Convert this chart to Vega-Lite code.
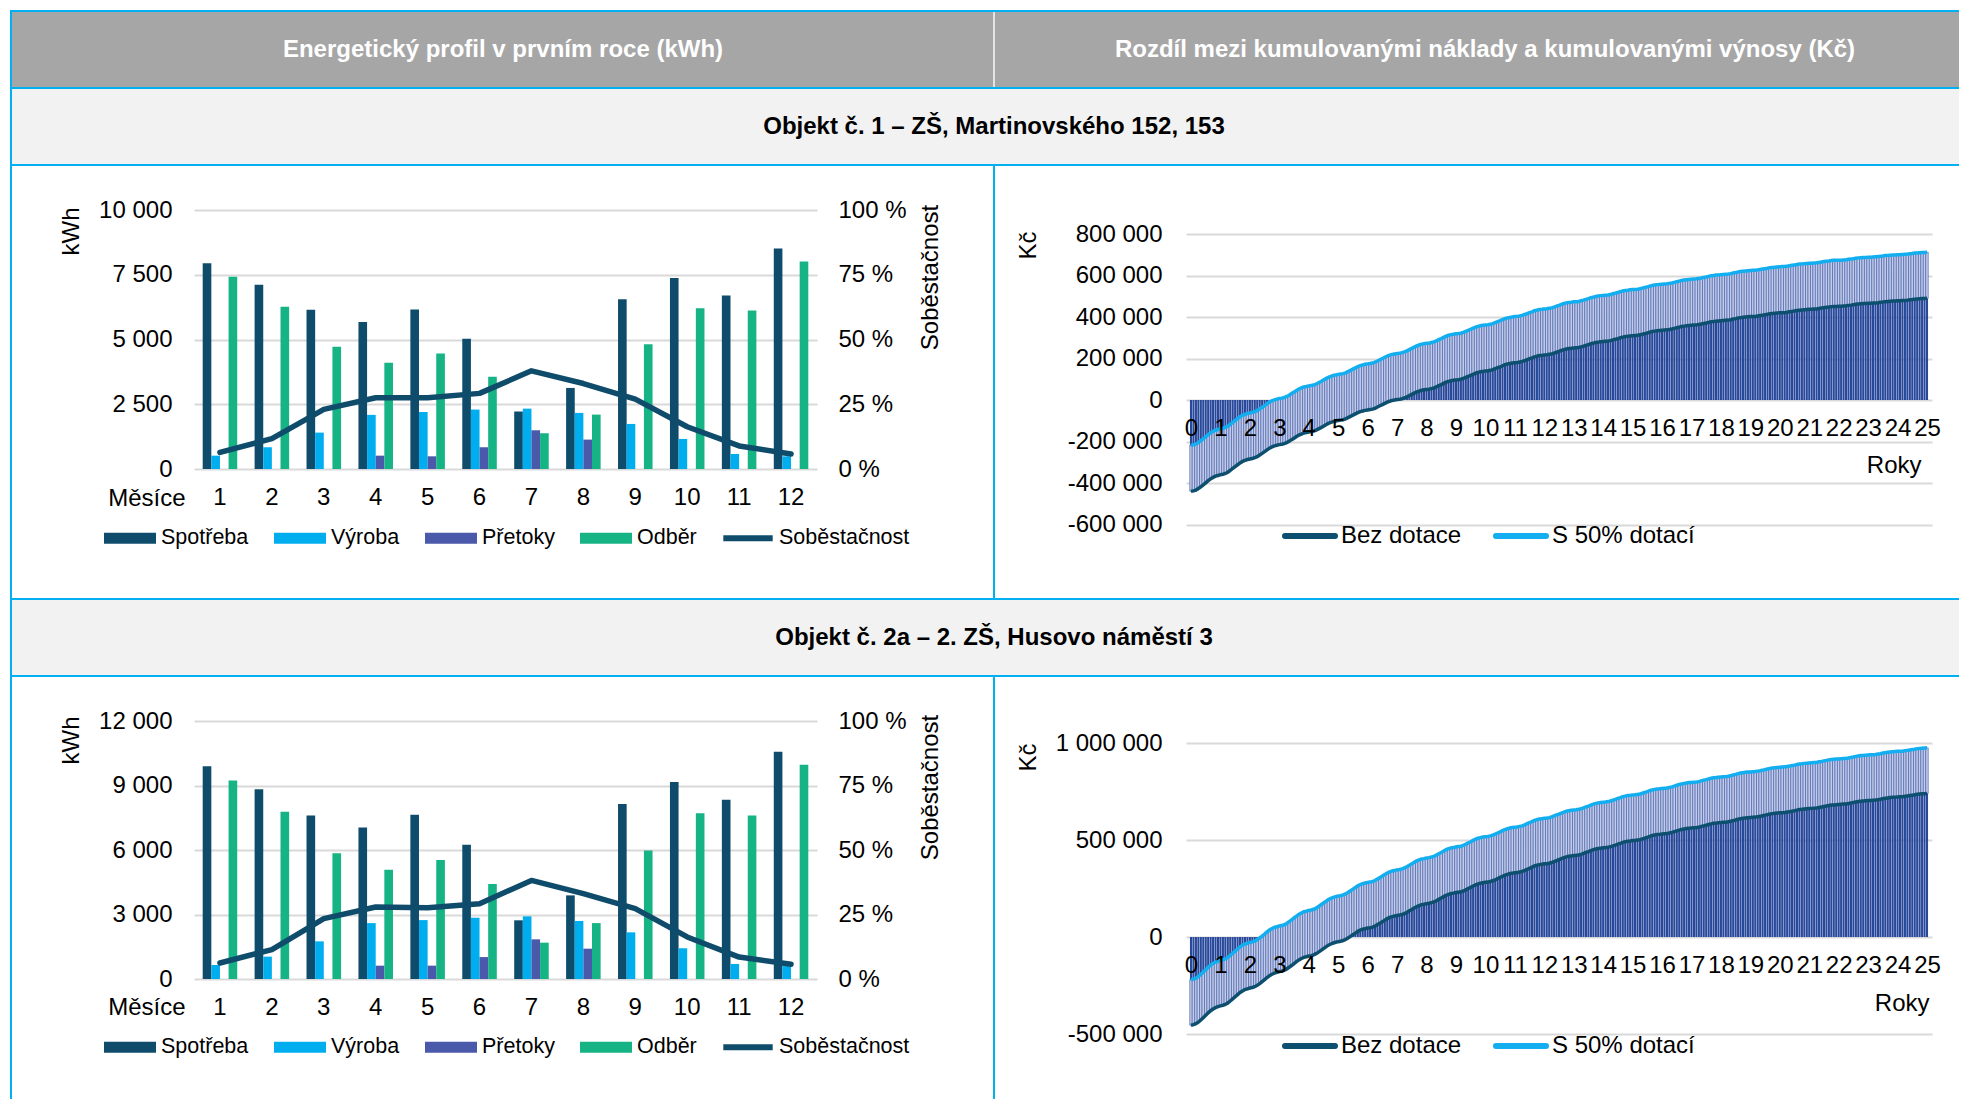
{
"$schema": "https://vega.github.io/schema/vega-lite/v6.json",
"padding": {"left": 10, "top": 10, "right": 0, "bottom": 0},
"background": "white",
"data": {"values": [{}]},
"datasets": {
"bars1": [
{"mesic":1,"serie":"Spotřeba","kwh":7940},{"mesic":1,"serie":"Výroba","kwh":515},{"mesic":1,"serie":"Přetoky","kwh":0},{"mesic":1,"serie":"Odběr","kwh":7425},
{"mesic":2,"serie":"Spotřeba","kwh":7110},{"mesic":2,"serie":"Výroba","kwh":840},{"mesic":2,"serie":"Přetoky","kwh":0},{"mesic":2,"serie":"Odběr","kwh":6260},
{"mesic":3,"serie":"Spotřeba","kwh":6150},{"mesic":3,"serie":"Výroba","kwh":1405},{"mesic":3,"serie":"Přetoky","kwh":0},{"mesic":3,"serie":"Odběr","kwh":4720},
{"mesic":4,"serie":"Spotřeba","kwh":5680},{"mesic":4,"serie":"Výroba","kwh":2090},{"mesic":4,"serie":"Přetoky","kwh":515},{"mesic":4,"serie":"Odběr","kwh":4105},
{"mesic":5,"serie":"Spotřeba","kwh":6160},{"mesic":5,"serie":"Výroba","kwh":2200},{"mesic":5,"serie":"Přetoky","kwh":490},{"mesic":5,"serie":"Odběr","kwh":4455},
{"mesic":6,"serie":"Spotřeba","kwh":5030},{"mesic":6,"serie":"Výroba","kwh":2295},{"mesic":6,"serie":"Přetoky","kwh":840},{"mesic":6,"serie":"Odběr","kwh":3565},
{"mesic":7,"serie":"Spotřeba","kwh":2220},{"mesic":7,"serie":"Výroba","kwh":2330},{"mesic":7,"serie":"Přetoky","kwh":1495},{"mesic":7,"serie":"Odběr","kwh":1380},
{"mesic":8,"serie":"Spotřeba","kwh":3130},{"mesic":8,"serie":"Výroba","kwh":2165},{"mesic":8,"serie":"Přetoky","kwh":1135},{"mesic":8,"serie":"Odběr","kwh":2100},
{"mesic":9,"serie":"Spotřeba","kwh":6550},{"mesic":9,"serie":"Výroba","kwh":1740},{"mesic":9,"serie":"Přetoky","kwh":0},{"mesic":9,"serie":"Odběr","kwh":4815},
{"mesic":10,"serie":"Spotřeba","kwh":7370},{"mesic":10,"serie":"Výroba","kwh":1160},{"mesic":10,"serie":"Přetoky","kwh":0},{"mesic":10,"serie":"Odběr","kwh":6210},
{"mesic":11,"serie":"Spotřeba","kwh":6700},{"mesic":11,"serie":"Výroba","kwh":580},{"mesic":11,"serie":"Přetoky","kwh":0},{"mesic":11,"serie":"Odběr","kwh":6120},
{"mesic":12,"serie":"Spotřeba","kwh":8510},{"mesic":12,"serie":"Výroba","kwh":490},{"mesic":12,"serie":"Přetoky","kwh":0},{"mesic":12,"serie":"Odběr","kwh":8010}
],
"sob1": [
{"mesic":1,"sob":6.4},{"mesic":2,"sob":11.7},{"mesic":3,"sob":23.0},{"mesic":4,"sob":27.5},{"mesic":5,"sob":27.5},{"mesic":6,"sob":29.2},
{"mesic":7,"sob":37.9},{"mesic":8,"sob":33.0},{"mesic":9,"sob":27.0},{"mesic":10,"sob":16.3},{"mesic":11,"sob":8.9},{"mesic":12,"sob":5.8}
],
"bars2": [
{"mesic":1,"serie":"Spotřeba","kwh":9890},{"mesic":1,"serie":"Výroba","kwh":650},{"mesic":1,"serie":"Přetoky","kwh":0},{"mesic":1,"serie":"Odběr","kwh":9235},
{"mesic":2,"serie":"Spotřeba","kwh":8820},{"mesic":2,"serie":"Výroba","kwh":1040},{"mesic":2,"serie":"Přetoky","kwh":0},{"mesic":2,"serie":"Odběr","kwh":7775},
{"mesic":3,"serie":"Spotřeba","kwh":7610},{"mesic":3,"serie":"Výroba","kwh":1750},{"mesic":3,"serie":"Přetoky","kwh":0},{"mesic":3,"serie":"Odběr","kwh":5845},
{"mesic":4,"serie":"Spotřeba","kwh":7050},{"mesic":4,"serie":"Výroba","kwh":2600},{"mesic":4,"serie":"Přetoky","kwh":620},{"mesic":4,"serie":"Odběr","kwh":5080},
{"mesic":5,"serie":"Spotřeba","kwh":7640},{"mesic":5,"serie":"Výroba","kwh":2740},{"mesic":5,"serie":"Přetoky","kwh":620},{"mesic":5,"serie":"Odběr","kwh":5530},
{"mesic":6,"serie":"Spotřeba","kwh":6250},{"mesic":6,"serie":"Výroba","kwh":2850},{"mesic":6,"serie":"Přetoky","kwh":1020},{"mesic":6,"serie":"Odběr","kwh":4420},
{"mesic":7,"serie":"Spotřeba","kwh":2730},{"mesic":7,"serie":"Výroba","kwh":2915},{"mesic":7,"serie":"Přetoky","kwh":1845},{"mesic":7,"serie":"Odběr","kwh":1690},
{"mesic":8,"serie":"Spotřeba","kwh":3890},{"mesic":8,"serie":"Výroba","kwh":2700},{"mesic":8,"serie":"Přetoky","kwh":1410},{"mesic":8,"serie":"Odběr","kwh":2600},
{"mesic":9,"serie":"Spotřeba","kwh":8140},{"mesic":9,"serie":"Výroba","kwh":2170},{"mesic":9,"serie":"Přetoky","kwh":0},{"mesic":9,"serie":"Odběr","kwh":5980},
{"mesic":10,"serie":"Spotřeba","kwh":9160},{"mesic":10,"serie":"Výroba","kwh":1430},{"mesic":10,"serie":"Přetoky","kwh":0},{"mesic":10,"serie":"Odběr","kwh":7710},
{"mesic":11,"serie":"Spotřeba","kwh":8340},{"mesic":11,"serie":"Výroba","kwh":700},{"mesic":11,"serie":"Přetoky","kwh":0},{"mesic":11,"serie":"Odběr","kwh":7610},
{"mesic":12,"serie":"Spotřeba","kwh":10570},{"mesic":12,"serie":"Výroba","kwh":600},{"mesic":12,"serie":"Přetoky","kwh":0},{"mesic":12,"serie":"Odběr","kwh":9960}
],
"sob2": [
{"mesic":1,"sob":6.2},{"mesic":2,"sob":11.4},{"mesic":3,"sob":23.4},{"mesic":4,"sob":27.9},{"mesic":5,"sob":27.6},{"mesic":6,"sob":29.2},
{"mesic":7,"sob":38.2},{"mesic":8,"sob":33.1},{"mesic":9,"sob":27.3},{"mesic":10,"sob":16.3},{"mesic":11,"sob":8.5},{"mesic":12,"sob":5.7}
],
"cum": [
{"m":0,"b1":-440000,"s1":-218000,"b2":-455000,"s2":-220000},
{"m":1,"b1":-438000,"s1":-216000,"b2":-452000,"s2":-217000},
{"m":2,"b1":-434000,"s1":-212000,"b2":-447000,"s2":-212000},
{"m":3,"b1":-427000,"s1":-205000,"b2":-439000,"s2":-204000},
{"m":4,"b1":-418000,"s1":-196000,"b2":-428000,"s2":-193000},
{"m":5,"b1":-409000,"s1":-187000,"b2":-416000,"s2":-181000},
{"m":6,"b1":-399000,"s1":-177000,"b2":-404000,"s2":-169000},
{"m":7,"b1":-389000,"s1":-167000,"b2":-391000,"s2":-156000},
{"m":8,"b1":-380000,"s1":-158000,"b2":-380000,"s2":-145000},
{"m":9,"b1":-373000,"s1":-151000,"b2":-371000,"s2":-136000},
{"m":10,"b1":-367000,"s1":-145000,"b2":-364000,"s2":-129000},
{"m":11,"b1":-364000,"s1":-142000,"b2":-359000,"s2":-124000},
{"m":12,"b1":-360000,"s1":-138000,"b2":-355000,"s2":-120000},
{"m":13,"b1":-358000,"s1":-136000,"b2":-352000,"s2":-117000},
{"m":14,"b1":-354000,"s1":-132000,"b2":-348000,"s2":-113000},
{"m":15,"b1":-348000,"s1":-126000,"b2":-340000,"s2":-105000},
{"m":16,"b1":-339000,"s1":-117000,"b2":-330000,"s2":-95000},
{"m":17,"b1":-330000,"s1":-108000,"b2":-319000,"s2":-84000},
{"m":18,"b1":-321000,"s1":-99000,"b2":-308000,"s2":-73000},
{"m":19,"b1":-312000,"s1":-90000,"b2":-297000,"s2":-62000},
{"m":20,"b1":-303000,"s1":-81000,"b2":-286000,"s2":-51000},
{"m":21,"b1":-296000,"s1":-74000,"b2":-278000,"s2":-43000},
{"m":22,"b1":-291000,"s1":-69000,"b2":-271000,"s2":-36000},
{"m":23,"b1":-287000,"s1":-65000,"b2":-267000,"s2":-32000},
{"m":24,"b1":-284000,"s1":-62000,"b2":-263000,"s2":-28000},
{"m":25,"b1":-282000,"s1":-60000,"b2":-260000,"s2":-25000},
{"m":26,"b1":-278000,"s1":-56000,"b2":-256000,"s2":-21000},
{"m":27,"b1":-273000,"s1":-51000,"b2":-249000,"s2":-14000},
{"m":28,"b1":-265000,"s1":-43000,"b2":-240000,"s2":-5000},
{"m":29,"b1":-257000,"s1":-35000,"b2":-230000,"s2":5000},
{"m":30,"b1":-249000,"s1":-27000,"b2":-220000,"s2":15000},
{"m":31,"b1":-240000,"s1":-18000,"b2":-209000,"s2":26000},
{"m":32,"b1":-232000,"s1":-10000,"b2":-199000,"s2":36000},
{"m":33,"b1":-226000,"s1":-4000,"b2":-192000,"s2":43000},
{"m":34,"b1":-221000,"s1":1000,"b2":-186000,"s2":49000},
{"m":35,"b1":-218000,"s1":4000,"b2":-182000,"s2":53000},
{"m":36,"b1":-215000,"s1":7000,"b2":-178000,"s2":57000},
{"m":37,"b1":-213000,"s1":9000,"b2":-176000,"s2":59000},
{"m":38,"b1":-210000,"s1":12000,"b2":-172000,"s2":63000},
{"m":39,"b1":-205000,"s1":17000,"b2":-165000,"s2":70000},
{"m":40,"b1":-199000,"s1":23000,"b2":-156000,"s2":79000},
{"m":41,"b1":-191000,"s1":31000,"b2":-147000,"s2":88000},
{"m":42,"b1":-184000,"s1":38000,"b2":-137000,"s2":98000},
{"m":43,"b1":-176000,"s1":46000,"b2":-127000,"s2":108000},
{"m":44,"b1":-169000,"s1":53000,"b2":-118000,"s2":117000},
{"m":45,"b1":-164000,"s1":58000,"b2":-111000,"s2":124000},
{"m":46,"b1":-159000,"s1":63000,"b2":-105000,"s2":130000},
{"m":47,"b1":-157000,"s1":65000,"b2":-102000,"s2":133000},
{"m":48,"b1":-154000,"s1":68000,"b2":-98000,"s2":137000},
{"m":49,"b1":-152000,"s1":70000,"b2":-96000,"s2":139000},
{"m":50,"b1":-150000,"s1":72000,"b2":-92000,"s2":143000},
{"m":51,"b1":-145000,"s1":77000,"b2":-86000,"s2":149000},
{"m":52,"b1":-139000,"s1":83000,"b2":-78000,"s2":157000},
{"m":53,"b1":-133000,"s1":89000,"b2":-69000,"s2":166000},
{"m":54,"b1":-126000,"s1":96000,"b2":-60000,"s2":175000},
{"m":55,"b1":-119000,"s1":103000,"b2":-51000,"s2":184000},
{"m":56,"b1":-113000,"s1":109000,"b2":-42000,"s2":193000},
{"m":57,"b1":-108000,"s1":114000,"b2":-36000,"s2":199000},
{"m":58,"b1":-104000,"s1":118000,"b2":-31000,"s2":204000},
{"m":59,"b1":-101000,"s1":121000,"b2":-27000,"s2":208000},
{"m":60,"b1":-99000,"s1":123000,"b2":-24000,"s2":211000},
{"m":61,"b1":-97000,"s1":125000,"b2":-22000,"s2":213000},
{"m":62,"b1":-95000,"s1":127000,"b2":-18000,"s2":217000},
{"m":63,"b1":-91000,"s1":131000,"b2":-13000,"s2":222000},
{"m":64,"b1":-85000,"s1":137000,"b2":-5000,"s2":230000},
{"m":65,"b1":-79000,"s1":143000,"b2":3000,"s2":238000},
{"m":66,"b1":-73000,"s1":149000,"b2":12000,"s2":247000},
{"m":67,"b1":-67000,"s1":155000,"b2":20000,"s2":255000},
{"m":68,"b1":-61000,"s1":161000,"b2":29000,"s2":264000},
{"m":69,"b1":-56000,"s1":166000,"b2":35000,"s2":270000},
{"m":70,"b1":-53000,"s1":169000,"b2":40000,"s2":275000},
{"m":71,"b1":-50000,"s1":172000,"b2":43000,"s2":278000},
{"m":72,"b1":-48000,"s1":174000,"b2":46000,"s2":281000},
{"m":73,"b1":-46000,"s1":176000,"b2":48000,"s2":283000},
{"m":74,"b1":-44000,"s1":178000,"b2":51000,"s2":286000},
{"m":75,"b1":-40000,"s1":182000,"b2":56000,"s2":291000},
{"m":76,"b1":-34000,"s1":188000,"b2":64000,"s2":299000},
{"m":77,"b1":-28000,"s1":194000,"b2":71000,"s2":306000},
{"m":78,"b1":-22000,"s1":200000,"b2":79000,"s2":314000},
{"m":79,"b1":-16000,"s1":206000,"b2":87000,"s2":322000},
{"m":80,"b1":-10000,"s1":212000,"b2":95000,"s2":330000},
{"m":81,"b1":-6000,"s1":216000,"b2":101000,"s2":336000},
{"m":82,"b1":-2000,"s1":220000,"b2":105000,"s2":340000},
{"m":83,"b1":0,"s1":222000,"b2":108000,"s2":343000},
{"m":84,"b1":2000,"s1":224000,"b2":111000,"s2":346000},
{"m":85,"b1":3000,"s1":225000,"b2":113000,"s2":348000},
{"m":86,"b1":6000,"s1":228000,"b2":116000,"s2":351000},
{"m":87,"b1":10000,"s1":232000,"b2":121000,"s2":356000},
{"m":88,"b1":15000,"s1":237000,"b2":127000,"s2":362000},
{"m":89,"b1":21000,"s1":243000,"b2":135000,"s2":370000},
{"m":90,"b1":27000,"s1":249000,"b2":142000,"s2":377000},
{"m":91,"b1":33000,"s1":255000,"b2":150000,"s2":385000},
{"m":92,"b1":39000,"s1":261000,"b2":157000,"s2":392000},
{"m":93,"b1":43000,"s1":265000,"b2":162000,"s2":397000},
{"m":94,"b1":47000,"s1":269000,"b2":167000,"s2":402000},
{"m":95,"b1":49000,"s1":271000,"b2":169000,"s2":404000},
{"m":96,"b1":51000,"s1":273000,"b2":172000,"s2":407000},
{"m":97,"b1":52000,"s1":274000,"b2":174000,"s2":409000},
{"m":98,"b1":55000,"s1":277000,"b2":177000,"s2":412000},
{"m":99,"b1":58000,"s1":280000,"b2":181000,"s2":416000},
{"m":100,"b1":63000,"s1":285000,"b2":187000,"s2":422000},
{"m":101,"b1":69000,"s1":291000,"b2":194000,"s2":429000},
{"m":102,"b1":74000,"s1":296000,"b2":201000,"s2":436000},
{"m":103,"b1":80000,"s1":302000,"b2":208000,"s2":443000},
{"m":104,"b1":86000,"s1":308000,"b2":215000,"s2":450000},
{"m":105,"b1":90000,"s1":312000,"b2":220000,"s2":455000},
{"m":106,"b1":93000,"s1":315000,"b2":224000,"s2":459000},
{"m":107,"b1":95000,"s1":317000,"b2":226000,"s2":461000},
{"m":108,"b1":97000,"s1":319000,"b2":229000,"s2":464000},
{"m":109,"b1":98000,"s1":320000,"b2":231000,"s2":466000},
{"m":110,"b1":100000,"s1":322000,"b2":233000,"s2":468000},
{"m":111,"b1":104000,"s1":326000,"b2":237000,"s2":472000},
{"m":112,"b1":109000,"s1":331000,"b2":243000,"s2":478000},
{"m":113,"b1":114000,"s1":336000,"b2":250000,"s2":485000},
{"m":114,"b1":119000,"s1":341000,"b2":256000,"s2":491000},
{"m":115,"b1":124000,"s1":346000,"b2":263000,"s2":498000},
{"m":116,"b1":129000,"s1":351000,"b2":269000,"s2":504000},
{"m":117,"b1":133000,"s1":355000,"b2":274000,"s2":509000},
{"m":118,"b1":136000,"s1":358000,"b2":277000,"s2":512000},
{"m":119,"b1":138000,"s1":360000,"b2":280000,"s2":515000},
{"m":120,"b1":140000,"s1":362000,"b2":282000,"s2":517000},
{"m":121,"b1":141000,"s1":363000,"b2":283000,"s2":518000},
{"m":122,"b1":143000,"s1":365000,"b2":286000,"s2":521000},
{"m":123,"b1":146000,"s1":368000,"b2":290000,"s2":525000},
{"m":124,"b1":151000,"s1":373000,"b2":295000,"s2":530000},
{"m":125,"b1":156000,"s1":378000,"b2":301000,"s2":536000},
{"m":126,"b1":160000,"s1":382000,"b2":307000,"s2":542000},
{"m":127,"b1":165000,"s1":387000,"b2":313000,"s2":548000},
{"m":128,"b1":170000,"s1":392000,"b2":319000,"s2":554000},
{"m":129,"b1":174000,"s1":396000,"b2":323000,"s2":558000},
{"m":130,"b1":176000,"s1":398000,"b2":327000,"s2":562000},
{"m":131,"b1":178000,"s1":400000,"b2":329000,"s2":564000},
{"m":132,"b1":180000,"s1":402000,"b2":331000,"s2":566000},
{"m":133,"b1":181000,"s1":403000,"b2":332000,"s2":567000},
{"m":134,"b1":183000,"s1":405000,"b2":335000,"s2":570000},
{"m":135,"b1":186000,"s1":408000,"b2":338000,"s2":573000},
{"m":136,"b1":190000,"s1":412000,"b2":343000,"s2":578000},
{"m":137,"b1":194000,"s1":416000,"b2":349000,"s2":584000},
{"m":138,"b1":199000,"s1":421000,"b2":354000,"s2":589000},
{"m":139,"b1":203000,"s1":425000,"b2":360000,"s2":595000},
{"m":140,"b1":208000,"s1":430000,"b2":366000,"s2":601000},
{"m":141,"b1":211000,"s1":433000,"b2":370000,"s2":605000},
{"m":142,"b1":214000,"s1":436000,"b2":373000,"s2":608000},
{"m":143,"b1":215000,"s1":437000,"b2":375000,"s2":610000},
{"m":144,"b1":217000,"s1":439000,"b2":377000,"s2":612000},
{"m":145,"b1":218000,"s1":440000,"b2":378000,"s2":613000},
{"m":146,"b1":220000,"s1":442000,"b2":380000,"s2":615000},
{"m":147,"b1":222000,"s1":444000,"b2":384000,"s2":619000},
{"m":148,"b1":226000,"s1":448000,"b2":389000,"s2":624000},
{"m":149,"b1":230000,"s1":452000,"b2":394000,"s2":629000},
{"m":150,"b1":234000,"s1":456000,"b2":399000,"s2":634000},
{"m":151,"b1":239000,"s1":461000,"b2":404000,"s2":639000},
{"m":152,"b1":243000,"s1":465000,"b2":409000,"s2":644000},
{"m":153,"b1":246000,"s1":468000,"b2":413000,"s2":648000},
{"m":154,"b1":248000,"s1":470000,"b2":416000,"s2":651000},
{"m":155,"b1":249000,"s1":471000,"b2":418000,"s2":653000},
{"m":156,"b1":251000,"s1":473000,"b2":420000,"s2":655000},
{"m":157,"b1":252000,"s1":474000,"b2":421000,"s2":656000},
{"m":158,"b1":253000,"s1":475000,"b2":423000,"s2":658000},
{"m":159,"b1":256000,"s1":478000,"b2":426000,"s2":661000},
{"m":160,"b1":259000,"s1":481000,"b2":431000,"s2":666000},
{"m":161,"b1":263000,"s1":485000,"b2":436000,"s2":671000},
{"m":162,"b1":267000,"s1":489000,"b2":440000,"s2":675000},
{"m":163,"b1":271000,"s1":493000,"b2":445000,"s2":680000},
{"m":164,"b1":274000,"s1":496000,"b2":450000,"s2":685000},
{"m":165,"b1":277000,"s1":499000,"b2":454000,"s2":689000},
{"m":166,"b1":279000,"s1":501000,"b2":456000,"s2":691000},
{"m":167,"b1":281000,"s1":503000,"b2":458000,"s2":693000},
{"m":168,"b1":282000,"s1":504000,"b2":460000,"s2":695000},
{"m":169,"b1":283000,"s1":505000,"b2":461000,"s2":696000},
{"m":170,"b1":284000,"s1":506000,"b2":463000,"s2":698000},
{"m":171,"b1":286000,"s1":508000,"b2":466000,"s2":701000},
{"m":172,"b1":290000,"s1":512000,"b2":470000,"s2":705000},
{"m":173,"b1":293000,"s1":515000,"b2":474000,"s2":709000},
{"m":174,"b1":296000,"s1":518000,"b2":479000,"s2":714000},
{"m":175,"b1":300000,"s1":522000,"b2":483000,"s2":718000},
{"m":176,"b1":303000,"s1":525000,"b2":488000,"s2":723000},
{"m":177,"b1":306000,"s1":528000,"b2":491000,"s2":726000},
{"m":178,"b1":307000,"s1":529000,"b2":494000,"s2":729000},
{"m":179,"b1":309000,"s1":531000,"b2":495000,"s2":730000},
{"m":180,"b1":310000,"s1":532000,"b2":497000,"s2":732000},
{"m":181,"b1":311000,"s1":533000,"b2":498000,"s2":733000},
{"m":182,"b1":312000,"s1":534000,"b2":500000,"s2":735000},
{"m":183,"b1":314000,"s1":536000,"b2":502000,"s2":737000},
{"m":184,"b1":317000,"s1":539000,"b2":506000,"s2":741000},
{"m":185,"b1":320000,"s1":542000,"b2":510000,"s2":745000},
{"m":186,"b1":323000,"s1":545000,"b2":514000,"s2":749000},
{"m":187,"b1":327000,"s1":549000,"b2":519000,"s2":754000},
{"m":188,"b1":330000,"s1":552000,"b2":523000,"s2":758000},
{"m":189,"b1":332000,"s1":554000,"b2":526000,"s2":761000},
{"m":190,"b1":334000,"s1":556000,"b2":528000,"s2":763000},
{"m":191,"b1":335000,"s1":557000,"b2":529000,"s2":764000},
{"m":192,"b1":336000,"s1":558000,"b2":531000,"s2":766000},
{"m":193,"b1":337000,"s1":559000,"b2":532000,"s2":767000},
{"m":194,"b1":338000,"s1":560000,"b2":533000,"s2":768000},
{"m":195,"b1":340000,"s1":562000,"b2":536000,"s2":771000},
{"m":196,"b1":342000,"s1":564000,"b2":539000,"s2":774000},
{"m":197,"b1":345000,"s1":567000,"b2":543000,"s2":778000},
{"m":198,"b1":348000,"s1":570000,"b2":547000,"s2":782000},
{"m":199,"b1":351000,"s1":573000,"b2":551000,"s2":786000},
{"m":200,"b1":354000,"s1":576000,"b2":554000,"s2":789000},
{"m":201,"b1":356000,"s1":578000,"b2":557000,"s2":792000},
{"m":202,"b1":358000,"s1":580000,"b2":559000,"s2":794000},
{"m":203,"b1":359000,"s1":581000,"b2":561000,"s2":796000},
{"m":204,"b1":360000,"s1":582000,"b2":562000,"s2":797000},
{"m":205,"b1":361000,"s1":583000,"b2":563000,"s2":798000},
{"m":206,"b1":362000,"s1":584000,"b2":564000,"s2":799000},
{"m":207,"b1":364000,"s1":586000,"b2":566000,"s2":801000},
{"m":208,"b1":366000,"s1":588000,"b2":570000,"s2":805000},
{"m":209,"b1":369000,"s1":591000,"b2":573000,"s2":808000},
{"m":210,"b1":371000,"s1":593000,"b2":576000,"s2":811000},
{"m":211,"b1":374000,"s1":596000,"b2":580000,"s2":815000},
{"m":212,"b1":377000,"s1":599000,"b2":583000,"s2":818000},
{"m":213,"b1":378000,"s1":600000,"b2":586000,"s2":821000},
{"m":214,"b1":380000,"s1":602000,"b2":587000,"s2":822000},
{"m":215,"b1":381000,"s1":603000,"b2":589000,"s2":824000},
{"m":216,"b1":382000,"s1":604000,"b2":590000,"s2":825000},
{"m":217,"b1":383000,"s1":605000,"b2":591000,"s2":826000},
{"m":218,"b1":384000,"s1":606000,"b2":592000,"s2":827000},
{"m":219,"b1":385000,"s1":607000,"b2":594000,"s2":829000},
{"m":220,"b1":387000,"s1":609000,"b2":597000,"s2":832000},
{"m":221,"b1":390000,"s1":612000,"b2":600000,"s2":835000},
{"m":222,"b1":392000,"s1":614000,"b2":603000,"s2":838000},
{"m":223,"b1":395000,"s1":617000,"b2":607000,"s2":842000},
{"m":224,"b1":397000,"s1":619000,"b2":610000,"s2":845000},
{"m":225,"b1":399000,"s1":621000,"b2":612000,"s2":847000},
{"m":226,"b1":400000,"s1":622000,"b2":614000,"s2":849000},
{"m":227,"b1":401000,"s1":623000,"b2":615000,"s2":850000},
{"m":228,"b1":402000,"s1":624000,"b2":616000,"s2":851000},
{"m":229,"b1":403000,"s1":625000,"b2":617000,"s2":852000},
{"m":230,"b1":403000,"s1":625000,"b2":618000,"s2":853000},
{"m":231,"b1":405000,"s1":627000,"b2":620000,"s2":855000},
{"m":232,"b1":407000,"s1":629000,"b2":622000,"s2":857000},
{"m":233,"b1":409000,"s1":631000,"b2":625000,"s2":860000},
{"m":234,"b1":411000,"s1":633000,"b2":628000,"s2":863000},
{"m":235,"b1":413000,"s1":635000,"b2":631000,"s2":866000},
{"m":236,"b1":416000,"s1":638000,"b2":634000,"s2":869000},
{"m":237,"b1":417000,"s1":639000,"b2":636000,"s2":871000},
{"m":238,"b1":418000,"s1":640000,"b2":638000,"s2":873000},
{"m":239,"b1":419000,"s1":641000,"b2":639000,"s2":874000},
{"m":240,"b1":420000,"s1":642000,"b2":640000,"s2":875000},
{"m":241,"b1":421000,"s1":643000,"b2":641000,"s2":876000},
{"m":242,"b1":421000,"s1":643000,"b2":642000,"s2":877000},
{"m":243,"b1":423000,"s1":645000,"b2":644000,"s2":879000},
{"m":244,"b1":425000,"s1":647000,"b2":646000,"s2":881000},
{"m":245,"b1":427000,"s1":649000,"b2":649000,"s2":884000},
{"m":246,"b1":429000,"s1":651000,"b2":651000,"s2":886000},
{"m":247,"b1":431000,"s1":653000,"b2":654000,"s2":889000},
{"m":248,"b1":433000,"s1":655000,"b2":657000,"s2":892000},
{"m":249,"b1":434000,"s1":656000,"b2":658000,"s2":893000},
{"m":250,"b1":435000,"s1":657000,"b2":660000,"s2":895000},
{"m":251,"b1":436000,"s1":658000,"b2":661000,"s2":896000},
{"m":252,"b1":437000,"s1":659000,"b2":662000,"s2":897000},
{"m":253,"b1":437000,"s1":659000,"b2":663000,"s2":898000},
{"m":254,"b1":438000,"s1":660000,"b2":664000,"s2":899000},
{"m":255,"b1":439000,"s1":661000,"b2":665000,"s2":900000},
{"m":256,"b1":441000,"s1":663000,"b2":668000,"s2":903000},
{"m":257,"b1":443000,"s1":665000,"b2":670000,"s2":905000},
{"m":258,"b1":445000,"s1":667000,"b2":673000,"s2":908000},
{"m":259,"b1":447000,"s1":669000,"b2":675000,"s2":910000},
{"m":260,"b1":448000,"s1":670000,"b2":678000,"s2":913000},
{"m":261,"b1":450000,"s1":672000,"b2":680000,"s2":915000},
{"m":262,"b1":451000,"s1":673000,"b2":681000,"s2":916000},
{"m":263,"b1":451000,"s1":673000,"b2":682000,"s2":917000},
{"m":264,"b1":452000,"s1":674000,"b2":683000,"s2":918000},
{"m":265,"b1":452000,"s1":674000,"b2":684000,"s2":919000},
{"m":266,"b1":453000,"s1":675000,"b2":685000,"s2":920000},
{"m":267,"b1":454000,"s1":676000,"b2":686000,"s2":921000},
{"m":268,"b1":456000,"s1":678000,"b2":688000,"s2":923000},
{"m":269,"b1":457000,"s1":679000,"b2":691000,"s2":926000},
{"m":270,"b1":459000,"s1":681000,"b2":693000,"s2":928000},
{"m":271,"b1":461000,"s1":683000,"b2":696000,"s2":931000},
{"m":272,"b1":463000,"s1":685000,"b2":698000,"s2":933000},
{"m":273,"b1":464000,"s1":686000,"b2":700000,"s2":935000},
{"m":274,"b1":465000,"s1":687000,"b2":701000,"s2":936000},
{"m":275,"b1":465000,"s1":687000,"b2":702000,"s2":937000},
{"m":276,"b1":466000,"s1":688000,"b2":703000,"s2":938000},
{"m":277,"b1":466000,"s1":688000,"b2":704000,"s2":939000},
{"m":278,"b1":467000,"s1":689000,"b2":705000,"s2":940000},
{"m":279,"b1":468000,"s1":690000,"b2":706000,"s2":941000},
{"m":280,"b1":469000,"s1":691000,"b2":708000,"s2":943000},
{"m":281,"b1":471000,"s1":693000,"b2":710000,"s2":945000},
{"m":282,"b1":472000,"s1":694000,"b2":713000,"s2":948000},
{"m":283,"b1":474000,"s1":696000,"b2":715000,"s2":950000},
{"m":284,"b1":475000,"s1":697000,"b2":717000,"s2":952000},
{"m":285,"b1":476000,"s1":698000,"b2":719000,"s2":954000},
{"m":286,"b1":477000,"s1":699000,"b2":720000,"s2":955000},
{"m":287,"b1":477000,"s1":699000,"b2":721000,"s2":956000},
{"m":288,"b1":478000,"s1":700000,"b2":722000,"s2":957000},
{"m":289,"b1":478000,"s1":700000,"b2":723000,"s2":958000},
{"m":290,"b1":479000,"s1":701000,"b2":723000,"s2":958000},
{"m":291,"b1":480000,"s1":702000,"b2":725000,"s2":960000},
{"m":292,"b1":481000,"s1":703000,"b2":727000,"s2":962000},
{"m":293,"b1":483000,"s1":705000,"b2":729000,"s2":964000},
{"m":294,"b1":484000,"s1":706000,"b2":731000,"s2":966000},
{"m":295,"b1":486000,"s1":708000,"b2":733000,"s2":968000},
{"m":296,"b1":487000,"s1":709000,"b2":736000,"s2":971000},
{"m":297,"b1":488000,"s1":710000,"b2":737000,"s2":972000},
{"m":298,"b1":489000,"s1":711000,"b2":738000,"s2":973000},
{"m":299,"b1":489000,"s1":711000,"b2":739000,"s2":974000},
{"m":300,"b1":490000,"s1":712000,"b2":740000,"s2":975000}
]
},
"config": {
"font": "Liberation Sans",
"view": {"stroke": null},
"text": {"font": "Liberation Sans", "fontSize": 0},
"axis": {"labelFont": "Liberation Sans", "titleFont": "Liberation Sans", "labelFontSize": 24, "titleFontSize": 24, "labelColor": "#000000", "titleColor": "#000000", "titleFontWeight": "normal", "ticks": false, "tickSize": 0, "domain": false, "gridColor": "#d9d9d9", "gridWidth": 2, "labelOverlap": false},
"axisX": {"grid": false, "labelAngle": 0, "labelFlush": false},
"axisY": {"grid": true},
"legend": {"labelFont": "Liberation Sans", "labelColor": "#000000", "padding": 0}
},
"resolve": {"scale": {"color": "independent"}, "legend": {"color": "independent"}},
"columns": 8,
"spacing": 0,
"bounds": "flush",
"align": "each",
"concat": [
{"width":2,"height":2,"mark":{"type":"text","text":""},"view":{"fill":"#00b0f0"}},
{"width":182,"height":2,"mark":{"type":"text","text":""},"view":{"fill":"#00b0f0"}},
{"width":623,"height":2,"mark":{"type":"text","text":""},"view":{"fill":"#00b0f0"}},
{"width":176,"height":2,"mark":{"type":"text","text":""},"view":{"fill":"#00b0f0"}},
{"width":2,"height":2,"mark":{"type":"text","text":""},"view":{"fill":"#00b0f0"}},
{"width":191,"height":2,"mark":{"type":"text","text":""},"view":{"fill":"#00b0f0"}},
{"width":746,"height":2,"mark":{"type":"text","text":""},"view":{"fill":"#00b0f0"}},
{"width":27,"height":2,"mark":{"type":"text","text":""},"view":{"fill":"#00b0f0"}},

{"width":2,"height":75,"mark":{"type":"text","text":""},"view":{"fill":"#00b0f0"}},
{"width":182,"height":75,"mark":{"type":"text","text":""},"view":{"fill":"#a6a6a6"}},
{"width":623,"height":75,"mark":{"type":"text","text":"Energetický profil v prvním roce (kWh)","fontSize":24,"fontWeight":"bold","color":"#ffffff","dx":-2.5},"view":{"fill":"#a6a6a6"}},
{"width":176,"height":75,"mark":{"type":"text","text":""},"view":{"fill":"#a6a6a6"}},
{"width":2,"height":75,"mark":{"type":"text","text":""},"view":{"fill":"#e4e4e4"}},
{"width":191,"height":75,"mark":{"type":"text","text":""},"view":{"fill":"#a6a6a6"}},
{"width":746,"height":75,"mark":{"type":"text","text":"Rozdíl mezi kumulovanými náklady a kumulovanými výnosy (Kč)","fontSize":24,"fontWeight":"bold","color":"#ffffff","dx":-74},"view":{"fill":"#a6a6a6"}},
{"width":27,"height":75,"mark":{"type":"text","text":""},"view":{"fill":"#a6a6a6"}},

{"width":2,"height":2,"mark":{"type":"text","text":""},"view":{"fill":"#00b0f0"}},
{"width":182,"height":2,"mark":{"type":"text","text":""},"view":{"fill":"#00b0f0"}},
{"width":623,"height":2,"mark":{"type":"text","text":""},"view":{"fill":"#00b0f0"}},
{"width":176,"height":2,"mark":{"type":"text","text":""},"view":{"fill":"#00b0f0"}},
{"width":2,"height":2,"mark":{"type":"text","text":""},"view":{"fill":"#00b0f0"}},
{"width":191,"height":2,"mark":{"type":"text","text":""},"view":{"fill":"#00b0f0"}},
{"width":746,"height":2,"mark":{"type":"text","text":""},"view":{"fill":"#00b0f0"}},
{"width":27,"height":2,"mark":{"type":"text","text":""},"view":{"fill":"#00b0f0"}},

{"width":2,"height":75,"mark":{"type":"text","text":""},"view":{"fill":"#00b0f0"}},
{"width":182,"height":75,"mark":{"type":"text","text":""},"view":{"fill":"#f2f2f2"}},
{"width":623,"height":75,"mark":{"type":"text","text":""},"view":{"fill":"#f2f2f2"}},
{"width":176,"height":75,"mark":{"type":"text","text":""},"view":{"fill":"#f2f2f2"}},
{"width":2,"height":75,"mark":{"type":"text","text":""},"view":{"fill":"#f2f2f2"}},
{"width":191,"height":75,"mark":{"type":"text","text":""},"view":{"fill":"#f2f2f2"}},
{"width":746,"height":75,"mark":{"type":"text","text":""},"view":{"fill":"#f2f2f2"}},
{"width":27,"height":75,"mark":{"type":"text","text":"Objekt č. 1 – ZŠ, Martinovského 152, 153","fontSize":24,"fontWeight":"bold","color":"#000000","dx":-951.5},"view":{"fill":"#f2f2f2"}},

{"width":2,"height":2,"mark":{"type":"text","text":""},"view":{"fill":"#00b0f0"}},
{"width":182,"height":2,"mark":{"type":"text","text":""},"view":{"fill":"#00b0f0"}},
{"width":623,"height":2,"mark":{"type":"text","text":""},"view":{"fill":"#00b0f0"}},
{"width":176,"height":2,"mark":{"type":"text","text":""},"view":{"fill":"#00b0f0"}},
{"width":2,"height":2,"mark":{"type":"text","text":""},"view":{"fill":"#00b0f0"}},
{"width":191,"height":2,"mark":{"type":"text","text":""},"view":{"fill":"#00b0f0"}},
{"width":746,"height":2,"mark":{"type":"text","text":""},"view":{"fill":"#00b0f0"}},
{"width":27,"height":2,"mark":{"type":"text","text":""},"view":{"fill":"#00b0f0"}},

{"width":2,"height":44,"mark":{"type":"text","text":""},"view":{"fill":"#00b0f0"}},
{"width":182,"height":44,"mark":{"type":"text","text":""}},
{"width":623,"height":44,"mark":{"type":"text","text":""}},
{"width":176,"height":44,"mark":{"type":"text","text":""}},
{"width":2,"height":44,"mark":{"type":"text","text":""},"view":{"fill":"#00b0f0"}},
{"width":191,"height":44,"mark":{"type":"text","text":""}},
{"width":746,"height":44,"mark":{"type":"text","text":""}},
{"width":27,"height":44,"mark":{"type":"text","text":""}},

{"width":2,"height":388,"mark":{"type":"text","text":""},"view":{"fill":"#00b0f0"}},
{"width":182,"height":388,"mark":{"type":"text","text":""}},
{
"width": 623, "height": 259,
"layer": [
{
"data": {"name": "bars1"},
"mark": {"type": "bar"},
"encoding": {
"x": {"field": "mesic", "type": "ordinal", "title": "Měsíce", "scale": {"paddingInner": 0.335, "paddingOuter": 0.1675},
"axis": {"labelPadding": 16, "titleX": -9, "titleY": 29, "titleAlign": "right", "titleBaseline": "middle"}},
"xOffset": {"field": "serie", "type": "nominal", "sort": ["Spotřeba","Výroba","Přetoky","Odběr"]},
"y": {"field": "kwh", "type": "quantitative", "stack": null, "title": "kWh", "scale": {"domain": [0, 10000], "nice": false},
"axis": {"values": [0,2500,5000,7500,10000], "labelExpr": "replace(format(datum.value, ','), ',', ' ')", "labelPadding": 22, "titleX": -123, "titleY": 21, "titleAngle": 270, "titleAlign": "center", "titleBaseline": "middle"}},
"color": {"field": "serie", "type": "nominal",
"scale": {"domain": ["Spotřeba","Výroba","Přetoky","Odběr","Soběstačnost"], "range": ["#0f4c6b","#00aeef","#4b59ab","#16b385","#0f4c6b"]},
"legend": {"title": null, "orient": "none", "legendX": -90, "legendY": 302, "direction": "horizontal", "columns": 5, "symbolType": "M-1,-0.21H1V0.21H-1Z", "symbolSize": 2704, "symbolStrokeWidth": 0, "symbolOpacity": 1, "labelFontSize": 21.5, "labelOffset": 5, "columnPadding": 25,
"encode": {"symbols": {"update": {"shape": {"signal": "datum.value === 'Soběstačnost' ? 'M-0.95,-0.12H0.95V0.12H-0.95Z' : 'M-1,-0.21H1V0.21H-1Z'"}}}}}}
}
},
{
"data": {"name": "sob1"},
"mark": {"type": "line", "strokeWidth": 5.5, "strokeCap": "round", "strokeJoin": "round"},
"encoding": {
"x": {"field": "mesic", "type": "ordinal", "title": "Měsíce"},
"y": {"field": "sob", "type": "quantitative", "title": "Soběstačnost", "scale": {"domain": [0, 100], "nice": false},
"axis": {"orient": "right", "grid": false, "values": [0,25,50,75,100], "labelExpr": "datum.value + ' %'", "labelPadding": 21, "titleX": 113, "titleY": 67, "titleAngle": 270, "titleAlign": "center", "titleBaseline": "middle"}},
"color": {"datum": "Soběstačnost"}
}
}
],
"resolve": {"scale": {"y": "independent"}}
},
{"width":176,"height":388,"mark":{"type":"text","text":""}},
{"width":2,"height":388,"mark":{"type":"text","text":""},"view":{"fill":"#00b0f0"}},
{"width":191,"height":388,"mark":{"type":"text","text":""}},
{
"width": 746, "height": 314.5,
"data": {"name": "cum"},
"encoding": {
"x": {"field": "m", "type": "quantitative", "title": "Roky", "scale": {"domain": [0, 300], "nice": false, "zero": false},
"axis": {"values": [0,12,24,36,48,60,72,84,96,108,120,132,144,156,168,180,192,204,216,228,240,252,264,276,288,300], "labelExpr": "datum.value / 12", "labelPadding": 16, "offset": -124.5, "zindex": 1, "titleX": 735, "titleY": 65, "titleAlign": "right", "titleBaseline": "middle"}}
},
"layer": [
{"mark": {"type": "bar", "width": 2.5, "fill": "#c3cce9", "stroke": "#3b56a3", "strokeWidth": 0.6, "clip": true},
"encoding": {
"y": {"field": "b1", "type": "quantitative", "title": "Kč", "scale": {"domain": [-600000, 800000], "range": [314.5, 24], "nice": false, "zero": false},
"axis": {"values": [-600000,-400000,-200000,0,200000,400000,600000,800000], "labelExpr": "replace(replace(replace(format(datum.value, ','), ',', ' '), ',', ' '), '\u2212', '-')", "labelPadding": 24, "titleX": -158, "titleY": 35, "titleAngle": 270, "titleAlign": "center", "titleBaseline": "middle"}},
"y2": {"field": "s1"}}},
{"transform": [{"filter": "datum.s1 < 0"}], "mark": {"type": "bar", "width": 2.1, "color": "#28489b", "clip": true},
"encoding": {"y": {"field": "s1", "type": "quantitative", "title": "Kč"}}},
{"transform": [{"filter": "datum.b1 > 0"}], "mark": {"type": "bar", "width": 2.1, "color": "#28489b", "clip": true},
"encoding": {"y": {"field": "b1", "type": "quantitative", "title": "Kč"}}},
{"mark": {"type": "line", "strokeWidth": 3.5, "clip": true},
"encoding": {"y": {"field": "b1", "type": "quantitative", "title": "Kč"},
"color": {"datum": "Bez dotace", "scale": {"domain": ["Bez dotace", "S 50% dotací"], "range": ["#0d4f6e", "#12aef0"]},
"legend": {"title": null, "orient": "none", "legendX": 96, "legendY": 298, "direction": "horizontal", "columns": 2, "symbolType": "stroke", "symbolSize": 2500, "symbolStrokeWidth": 6, "labelFontSize": 24, "labelOffset": 3, "columnPadding": 22,
"encode": {"symbols": {"update": {"strokeCap": {"value": "round"}}}}}}}},
{"mark": {"type": "line", "strokeWidth": 3.5, "clip": true},
"encoding": {"y": {"field": "s1", "type": "quantitative", "title": "Kč"}, "color": {"datum": "S 50% dotací"}}}
]
},
{"width":27,"height":388,"mark":{"type":"text","text":""}},

{"width":2,"height":2,"mark":{"type":"text","text":""},"view":{"fill":"#00b0f0"}},
{"width":182,"height":2,"mark":{"type":"text","text":""},"view":{"fill":"#00b0f0"}},
{"width":623,"height":2,"mark":{"type":"text","text":""},"view":{"fill":"#00b0f0"}},
{"width":176,"height":2,"mark":{"type":"text","text":""},"view":{"fill":"#00b0f0"}},
{"width":2,"height":2,"mark":{"type":"text","text":""},"view":{"fill":"#00b0f0"}},
{"width":191,"height":2,"mark":{"type":"text","text":""},"view":{"fill":"#00b0f0"}},
{"width":746,"height":2,"mark":{"type":"text","text":""},"view":{"fill":"#00b0f0"}},
{"width":27,"height":2,"mark":{"type":"text","text":""},"view":{"fill":"#00b0f0"}},

{"width":2,"height":75,"mark":{"type":"text","text":""},"view":{"fill":"#00b0f0"}},
{"width":182,"height":75,"mark":{"type":"text","text":""},"view":{"fill":"#f2f2f2"}},
{"width":623,"height":75,"mark":{"type":"text","text":""},"view":{"fill":"#f2f2f2"}},
{"width":176,"height":75,"mark":{"type":"text","text":""},"view":{"fill":"#f2f2f2"}},
{"width":2,"height":75,"mark":{"type":"text","text":""},"view":{"fill":"#f2f2f2"}},
{"width":191,"height":75,"mark":{"type":"text","text":""},"view":{"fill":"#f2f2f2"}},
{"width":746,"height":75,"mark":{"type":"text","text":""},"view":{"fill":"#f2f2f2"}},
{"width":27,"height":75,"mark":{"type":"text","text":"Objekt č. 2a – 2. ZŠ, Husovo náměstí 3","fontSize":24,"fontWeight":"bold","color":"#000000","dx":-951.5},"view":{"fill":"#f2f2f2"}},

{"width":2,"height":2,"mark":{"type":"text","text":""},"view":{"fill":"#00b0f0"}},
{"width":182,"height":2,"mark":{"type":"text","text":""},"view":{"fill":"#00b0f0"}},
{"width":623,"height":2,"mark":{"type":"text","text":""},"view":{"fill":"#00b0f0"}},
{"width":176,"height":2,"mark":{"type":"text","text":""},"view":{"fill":"#00b0f0"}},
{"width":2,"height":2,"mark":{"type":"text","text":""},"view":{"fill":"#00b0f0"}},
{"width":191,"height":2,"mark":{"type":"text","text":""},"view":{"fill":"#00b0f0"}},
{"width":746,"height":2,"mark":{"type":"text","text":""},"view":{"fill":"#00b0f0"}},
{"width":27,"height":2,"mark":{"type":"text","text":""},"view":{"fill":"#00b0f0"}},

{"width":2,"height":44,"mark":{"type":"text","text":""},"view":{"fill":"#00b0f0"}},
{"width":182,"height":44,"mark":{"type":"text","text":""}},
{"width":623,"height":44,"mark":{"type":"text","text":""}},
{"width":176,"height":44,"mark":{"type":"text","text":""}},
{"width":2,"height":44,"mark":{"type":"text","text":""},"view":{"fill":"#00b0f0"}},
{"width":191,"height":44,"mark":{"type":"text","text":""}},
{"width":746,"height":44,"mark":{"type":"text","text":""}},
{"width":27,"height":44,"mark":{"type":"text","text":""}},

{"width":2,"height":378,"mark":{"type":"text","text":""},"view":{"fill":"#00b0f0"}},
{"width":182,"height":378,"mark":{"type":"text","text":""}},
{
"width": 623, "height": 258,
"layer": [
{
"data": {"name": "bars2"},
"mark": {"type": "bar"},
"encoding": {
"x": {"field": "mesic", "type": "ordinal", "title": "Měsíce", "scale": {"paddingInner": 0.335, "paddingOuter": 0.1675},
"axis": {"labelPadding": 16, "titleX": -9, "titleY": 28, "titleAlign": "right", "titleBaseline": "middle"}},
"xOffset": {"field": "serie", "type": "nominal", "sort": ["Spotřeba","Výroba","Přetoky","Odběr"]},
"y": {"field": "kwh", "type": "quantitative", "stack": null, "title": "kWh", "scale": {"domain": [0, 12000], "nice": false},
"axis": {"values": [0,3000,6000,9000,12000], "labelExpr": "replace(format(datum.value, ','), ',', ' ')", "labelPadding": 22, "titleX": -123, "titleY": 19, "titleAngle": 270, "titleAlign": "center", "titleBaseline": "middle"}},
"color": {"field": "serie", "type": "nominal",
"scale": {"domain": ["Spotřeba","Výroba","Přetoky","Odběr","Soběstačnost"], "range": ["#0f4c6b","#00aeef","#4b59ab","#16b385","#0f4c6b"]},
"legend": {"title": null, "orient": "none", "legendX": -90, "legendY": 300, "direction": "horizontal", "columns": 5, "symbolType": "M-1,-0.21H1V0.21H-1Z", "symbolSize": 2704, "symbolStrokeWidth": 0, "symbolOpacity": 1, "labelFontSize": 21.5, "labelOffset": 5, "columnPadding": 25,
"encode": {"symbols": {"update": {"shape": {"signal": "datum.value === 'Soběstačnost' ? 'M-0.95,-0.12H0.95V0.12H-0.95Z' : 'M-1,-0.21H1V0.21H-1Z'"}}}}}}
}
},
{
"data": {"name": "sob2"},
"mark": {"type": "line", "strokeWidth": 5.5, "strokeCap": "round", "strokeJoin": "round"},
"encoding": {
"x": {"field": "mesic", "type": "ordinal", "title": "Měsíce"},
"y": {"field": "sob", "type": "quantitative", "title": "Soběstačnost", "scale": {"domain": [0, 100], "nice": false},
"axis": {"orient": "right", "grid": false, "values": [0,25,50,75,100], "labelExpr": "datum.value + ' %'", "labelPadding": 21, "titleX": 113, "titleY": 66, "titleAngle": 270, "titleAlign": "center", "titleBaseline": "middle"}},
"color": {"datum": "Soběstačnost"}
}
}
],
"resolve": {"scale": {"y": "independent"}}
},
{"width":176,"height":378,"mark":{"type":"text","text":""}},
{"width":2,"height":378,"mark":{"type":"text","text":""},"view":{"fill":"#00b0f0"}},
{"width":191,"height":378,"mark":{"type":"text","text":""}},
{
"width": 746, "height": 313,
"data": {"name": "cum"},
"encoding": {
"x": {"field": "m", "type": "quantitative", "title": "Roky", "scale": {"domain": [0, 300], "nice": false, "zero": false},
"axis": {"values": [0,12,24,36,48,60,72,84,96,108,120,132,144,156,168,180,192,204,216,228,240,252,264,276,288,300], "labelExpr": "datum.value / 12", "labelPadding": 16, "offset": -97, "zindex": 1, "titleX": 743, "titleY": 66, "titleAlign": "right", "titleBaseline": "middle"}}
},
"layer": [
{"mark": {"type": "bar", "width": 2.5, "fill": "#c3cce9", "stroke": "#3b56a3", "strokeWidth": 0.6, "clip": true},
"encoding": {
"y": {"field": "b2", "type": "quantitative", "title": "Kč", "scale": {"domain": [-500000, 1000000], "range": [313, 22], "nice": false, "zero": false},
"axis": {"values": [-500000,0,500000,1000000], "labelExpr": "replace(replace(replace(format(datum.value, ','), ',', ' '), ',', ' '), '\u2212', '-')", "labelPadding": 24, "titleX": -158, "titleY": 36, "titleAngle": 270, "titleAlign": "center", "titleBaseline": "middle"}},
"y2": {"field": "s2"}}},
{"transform": [{"filter": "datum.s2 < 0"}], "mark": {"type": "bar", "width": 2.1, "color": "#28489b", "clip": true},
"encoding": {"y": {"field": "s2", "type": "quantitative", "title": "Kč"}}},
{"transform": [{"filter": "datum.b2 > 0"}], "mark": {"type": "bar", "width": 2.1, "color": "#28489b", "clip": true},
"encoding": {"y": {"field": "b2", "type": "quantitative", "title": "Kč"}}},
{"mark": {"type": "line", "strokeWidth": 3.5, "clip": true},
"encoding": {"y": {"field": "b2", "type": "quantitative", "title": "Kč"},
"color": {"datum": "Bez dotace", "scale": {"domain": ["Bez dotace", "S 50% dotací"], "range": ["#0d4f6e", "#12aef0"]},
"legend": {"title": null, "orient": "none", "legendX": 96, "legendY": 297, "direction": "horizontal", "columns": 2, "symbolType": "stroke", "symbolSize": 2500, "symbolStrokeWidth": 6, "labelFontSize": 24, "labelOffset": 3, "columnPadding": 22,
"encode": {"symbols": {"update": {"strokeCap": {"value": "round"}}}}}}}},
{"mark": {"type": "line", "strokeWidth": 3.5, "clip": true},
"encoding": {"y": {"field": "s2", "type": "quantitative", "title": "Kč"}, "color": {"datum": "S 50% dotací"}}}
]
},
{"width":27,"height":378,"mark":{"type":"text","text":""}}
]
}
